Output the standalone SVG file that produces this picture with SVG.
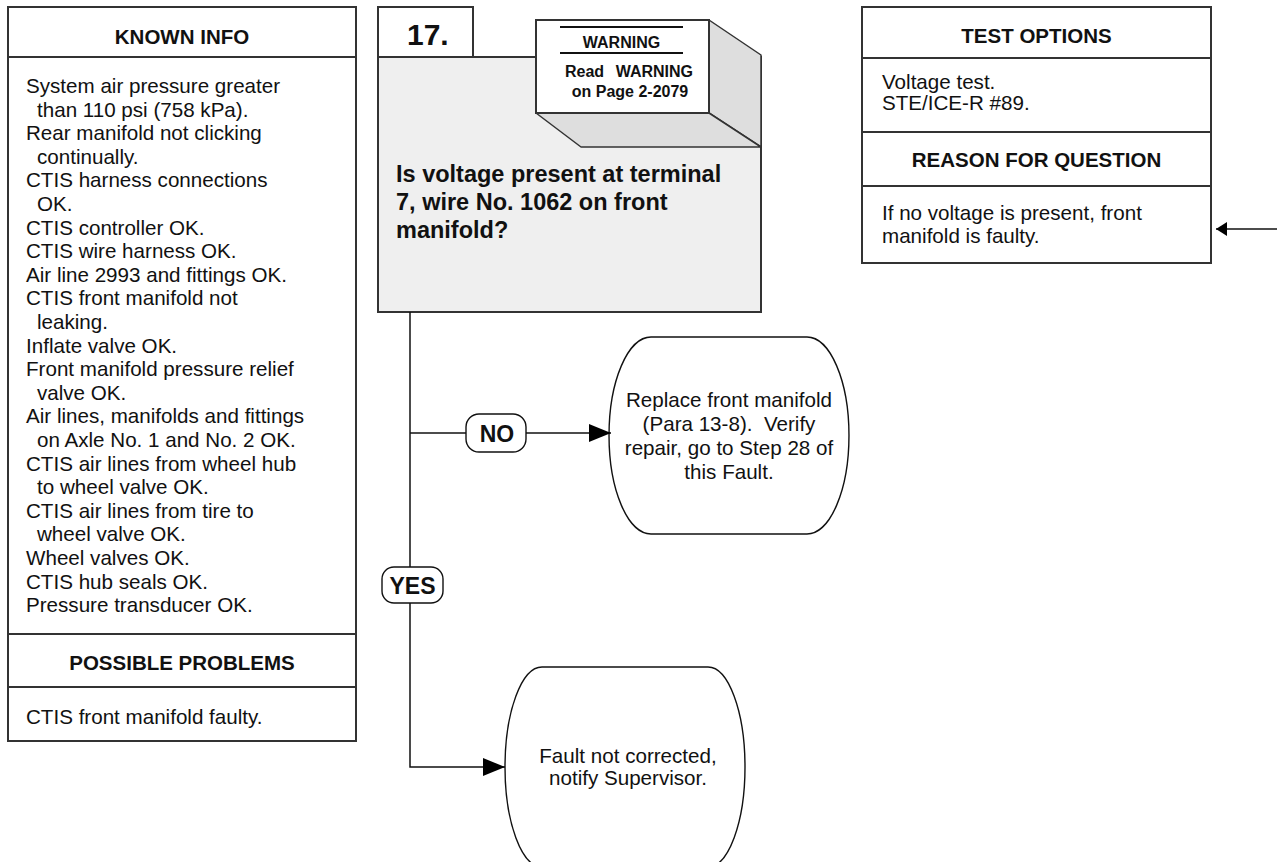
<svg xmlns="http://www.w3.org/2000/svg" width="1277" height="862" viewBox="0 0 1277 862">
  <style>
    .box { fill: #ffffff; stroke: #333333; stroke-width: 2; }
    .sep { stroke: #333333; stroke-width: 2; fill: none; }
    .hdr { font-family: "Liberation Sans", Arial, sans-serif; font-weight: bold; font-size: 20.5px; fill: #111; text-anchor: middle; }
    .body { font-family: "Liberation Sans", Arial, sans-serif; font-size: 20.6px; fill: #111; }
    .mid { text-anchor: middle; }
    .q { font-family: "Liberation Sans", Arial, sans-serif; font-weight: bold; font-size: 23.5px; fill: #111; }
    .warn { font-family: "Liberation Sans", Arial, sans-serif; font-weight: bold; font-size: 16px; fill: #111; }
    .lbl { font-family: "Liberation Sans", Arial, sans-serif; font-weight: bold; font-size: 23px; fill: #111; text-anchor: middle; }
    .wire { stroke: #111111; stroke-width: 1.5; fill: none; }
    .term { fill: #ffffff; stroke: #111111; stroke-width: 1.4; }
  </style>
  <defs>
    <marker id="headLg" markerUnits="userSpaceOnUse" markerWidth="24" markerHeight="20" refX="22" refY="9" orient="auto">
      <path d="M0,0 L22,9 L0,18 Z" fill="#000"/>
    </marker>
    <marker id="headSm" markerUnits="userSpaceOnUse" markerWidth="12" markerHeight="16" refX="11" refY="7" orient="auto">
      <path d="M0,0 L11,7 L0,14 Z" fill="#000"/>
    </marker>
  </defs>

  <rect width="1277" height="862" fill="#ffffff"/>

  <!-- Known info / possible problems panel -->
  <g id="known-info">
    <rect class="box" x="8" y="7" width="348" height="734"/>
    <line class="sep" x1="8" y1="57" x2="356" y2="57"/>
    <line class="sep" x1="8" y1="634" x2="356" y2="634"/>
    <line class="sep" x1="8" y1="687" x2="356" y2="687"/>
    <text class="hdr" x="182" y="44">KNOWN INFO</text>
    <text class="body">
      <tspan x="26" y="93">System air pressure greater</tspan>
      <tspan x="37" y="116.6">than 110 psi (758 kPa).</tspan>
      <tspan x="26" y="140.2">Rear manifold not clicking</tspan>
      <tspan x="37" y="163.8">continually.</tspan>
      <tspan x="26" y="187.4">CTIS harness connections</tspan>
      <tspan x="37" y="211">OK.</tspan>
      <tspan x="26" y="234.6">CTIS controller OK.</tspan>
      <tspan x="26" y="258.2">CTIS wire harness OK.</tspan>
      <tspan x="26" y="281.8">Air line 2993 and fittings OK.</tspan>
      <tspan x="26" y="305.4">CTIS front manifold not</tspan>
      <tspan x="37" y="329">leaking.</tspan>
      <tspan x="26" y="352.6">Inflate valve OK.</tspan>
      <tspan x="26" y="376.2">Front manifold pressure relief</tspan>
      <tspan x="37" y="399.8">valve OK.</tspan>
      <tspan x="26" y="423.4">Air lines, manifolds and fittings</tspan>
      <tspan x="37" y="447">on Axle No. 1 and No. 2 OK.</tspan>
      <tspan x="26" y="470.6">CTIS air lines from wheel hub</tspan>
      <tspan x="37" y="494.2">to wheel valve OK.</tspan>
      <tspan x="26" y="517.8">CTIS air lines from tire to</tspan>
      <tspan x="37" y="541.4">wheel valve OK.</tspan>
      <tspan x="26" y="565">Wheel valves OK.</tspan>
      <tspan x="26" y="588.6">CTIS hub seals OK.</tspan>
      <tspan x="26" y="612.2">Pressure transducer OK.</tspan>
    </text>
    <text class="hdr" x="182" y="670">POSSIBLE PROBLEMS</text>
    <text class="body" x="26" y="724">CTIS front manifold faulty.</text>
  </g>

  <!-- Step 17 question box -->
  <g id="step-17">
    <rect x="378" y="57" width="383" height="255" fill="#efefef" stroke="#333333" stroke-width="2"/>
    <rect class="box" x="378" y="7" width="95" height="50"/>
    <text x="407" y="45" font-family="Liberation Sans, Arial, sans-serif" font-weight="bold" font-size="30" fill="#111">17.</text>
    <text class="q">
      <tspan x="396" y="181.5">Is voltage present at terminal</tspan>
      <tspan x="396" y="209.5">7, wire No. 1062 on front</tspan>
      <tspan x="396" y="237.5">manifold?</tspan>
    </text>
  </g>

  <!-- Warning callout block -->
  <g id="warning">
    <polygon points="709,20 761,55 761,147 709,113" fill="#dedede" stroke="#333333" stroke-width="1.5" stroke-linejoin="round"/>
    <polygon points="536,113 709,113 761,147 581,147" fill="#dedede" stroke="#333333" stroke-width="1.5" stroke-linejoin="round"/>
    <rect x="536" y="20" width="173" height="93" fill="#ffffff" stroke="#333333" stroke-width="2"/>
    <line x1="560" y1="27" x2="683" y2="27" stroke="#111" stroke-width="2"/>
    <line x1="560" y1="53" x2="683" y2="53" stroke="#111" stroke-width="2"/>
    <text class="warn" x="621.5" y="48" text-anchor="middle">WARNING</text>
    <text class="warn" x="565" y="77">Read</text>
    <text class="warn" x="693" y="77" text-anchor="end">WARNING</text>
    <text class="warn" x="630" y="97" text-anchor="middle">on Page 2-2079</text>
  </g>

  <!-- Test options / reason for question panel -->
  <g id="test-options">
    <rect class="box" x="862" y="7" width="349" height="256"/>
    <line class="sep" x1="862" y1="58" x2="1211" y2="58"/>
    <line class="sep" x1="862" y1="132" x2="1211" y2="132"/>
    <line class="sep" x1="862" y1="186" x2="1211" y2="186"/>
    <text class="hdr" x="1036.5" y="43">TEST OPTIONS</text>
    <text class="body">
      <tspan x="882" y="89">Voltage test.</tspan>
      <tspan x="882" y="110">STE/ICE-R #89.</tspan>
    </text>
    <text class="hdr" x="1036.5" y="167">REASON FOR QUESTION</text>
    <text class="body">
      <tspan x="882" y="220">If no voltage is present, front</tspan>
      <tspan x="882" y="243">manifold is faulty.</tspan>
    </text>
  </g>

  <!-- Outcome: replace manifold -->
  <g id="replace-manifold">
    <path class="term" d="M651,337 H807 A42,98.5 0 0 1 807,534 H651 A42,98.5 0 0 1 651,337 Z"/>
    <text class="body mid" x="729" y="407">Replace front manifold</text>
    <text class="body mid" x="729" y="431">(Para 13-8).&#160; Verify</text>
    <text class="body mid" x="729" y="455">repair, go to Step 28 of</text>
    <text class="body mid" x="729" y="479">this Fault.</text>
  </g>

  <!-- Outcome: notify supervisor -->
  <g id="notify-supervisor">
    <path class="term" d="M542,667 H708 A37,100 0 0 1 708,867 H542 A37,100 0 0 1 542,667 Z"/>
    <text class="body mid" x="628" y="763">Fault not corrected,</text>
    <text class="body mid" x="628" y="785">notify Supervisor.</text>
  </g>

  <!-- Connectors -->
  <g id="connectors">
    <line class="wire" x1="410" y1="312" x2="410" y2="567"/>
    <line class="wire" x1="410" y1="433" x2="466" y2="433"/>
    <line class="wire" x1="526" y1="433" x2="611" y2="433" marker-end="url(#headLg)"/>
    <polyline class="wire" points="410,603 410,767 505,767" marker-end="url(#headLg)"/>
    <line class="wire" x1="1277" y1="229" x2="1216" y2="229" marker-end="url(#headSm)"/>
  </g>

  <!-- Branch labels -->
  <g id="label-no">
    <rect x="466" y="414" width="60" height="38" rx="13" ry="13" fill="#fff" stroke="#111" stroke-width="1.4"/>
    <text class="lbl" x="497" y="442">NO</text>
  </g>
  <g id="label-yes">
    <rect x="382" y="567" width="61" height="36" rx="12" ry="12" fill="#fff" stroke="#111" stroke-width="1.4"/>
    <text class="lbl" x="412.5" y="593.5">YES</text>
  </g>
</svg>
